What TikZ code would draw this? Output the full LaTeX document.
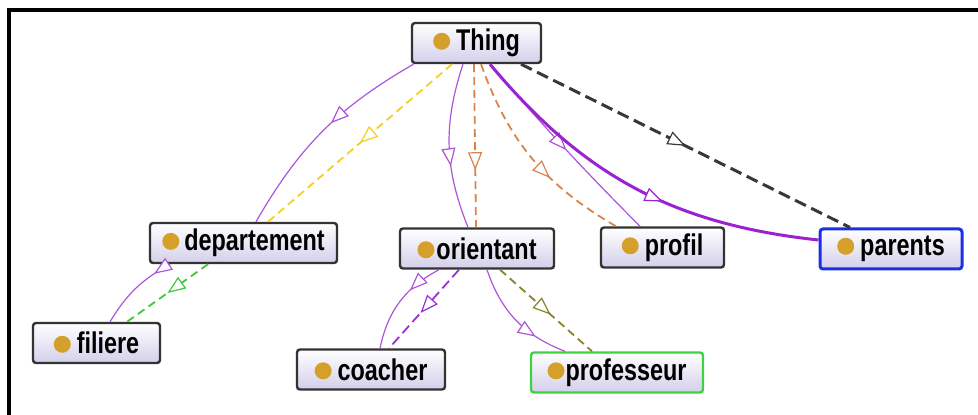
\documentclass[tikz,border=0pt]{standalone}
\usepackage{graphicx}
\usepackage{fontspec}
\setmainfont{Liberation Sans}
\usetikzlibrary{arrows.meta,decorations.markings}

\definecolor{isapurple}{HTML}{AC55D8}
\definecolor{thickpurple}{HTML}{9A22D0}
\definecolor{dashpurple}{HTML}{9B30D0}
\definecolor{dashyellow}{HTML}{F2D024}
\definecolor{dashorange}{HTML}{D9844A}
\definecolor{dashgreen}{HTML}{3CC83C}
\definecolor{dasholive}{HTML}{85852A}
\definecolor{dashblack}{HTML}{383838}
\definecolor{parentblue}{HTML}{1A2FE6}
\definecolor{profgreen}{HTML}{3FD13F}
\definecolor{dotgold}{HTML}{D4A02A}
\definecolor{boxlavender}{HTML}{D3CFEA}

\newcommand{\classdot}{\tikz[baseline=-9.4pt]\fill[dotgold] (0,0) circle (8.5pt);}
\newcommand{\clsname}[2][5pt]{\classdot\hspace{#1}\scalebox{1}[1.28]{#2}}

\tikzset{
	cls/.style={draw=black!80, line width=2.4pt, rounded corners=3pt, top color=white,
		bottom color=boxlavender, minimum height=40pt, inner sep=0pt,
		font=\bfseries\fontsize{23.4}{22}\selectfont},
	tipat/.style={decoration={markings, mark=at position #1 with
		{\arrow[line width=1.2pt]{Triangle[length=18pt,width=14pt,fill=white]}}},
		postaction={decorate}},
	isa/.style={isapurple, line width=1.2pt},
	isathick/.style={thickpurple, line width=3pt},
	yellowdash/.style={dashyellow, line width=1.8pt, dash pattern=on 8pt off 5pt},
	orangedash/.style={dashorange, line width=1.8pt, dash pattern=on 8pt off 5pt},
	blackdash/.style={dashblack, line width=3pt, dash pattern=on 12pt off 6pt},
	greendash/.style={dashgreen, line width=1.8pt, dash pattern=on 8pt off 5pt},
	olivedash/.style={dasholive, line width=1.8pt, dash pattern=on 8pt off 5pt},
	purpledash/.style={dashpurple, line width=1.8pt, dash pattern=on 10pt off 5pt}
}

\begin{document}
\begin{tikzpicture}[x=1pt,y=1pt]
	\useasboundingbox (0,0) rectangle (978,415);
	\draw[line width=4pt] (9,0) -- (9,405) -- (978,405);

	% classes
	\node[cls, minimum width=129pt] (thing) at (476.5,372) {\clsname[6pt]{Thing}};
	\node[cls, minimum width=187pt] (departement) at (243.5,172) {\clsname{departement}};
	\node[cls, minimum width=154pt] (orientant) at (477,166.5) {\clsname[2pt]{orientant}};
	\node[cls, minimum width=123pt] (profil) at (662.5,167.5) {\clsname[6pt]{profil}};
	\node[cls, draw=parentblue, line width=3pt, minimum width=142pt] (parents) at (891,166) {\clsname[6pt]{parents}};
	\node[cls, minimum width=127pt] (filiere) at (96.5,72) {\clsname[6pt]{filiere}};
	\node[cls, minimum width=148pt] (coacher) at (371,45.5) {\clsname[6pt]{coacher}};
	\node[cls, draw=profgreen, minimum width=172pt] (professeur) at (617,42.5) {\clsname[1pt]{professeur}};

	% from Thing
	\draw[isa, tipat=0.45] ([xshift=-63pt]thing.south) to[bend right=15] ([xshift=12.5pt]departement.north);
	\draw[yellowdash, tipat=0.5] ([xshift=-24.5pt]thing.south) -- ([xshift=24.5pt]departement.north);
	\draw[isa, tipat=0.62] ([xshift=-13.5pt]thing.south) to[bend right=20] ([xshift=-9pt]orientant.north);
	\draw[orangedash, tipat=0.65] ([xshift=-2.5pt]thing.south) -- ([xshift=-1pt]orientant.north);
	\draw[orangedash, tipat=0.62] ([xshift=4.5pt]thing.south) to[bend right=20] ([xshift=-46.5pt]profil.north);
	\draw[isa, tipat=0.52] ([xshift=13.5pt]thing.south) to[bend right=2] ([xshift=-22.5pt]profil.north);
	\draw[isathick, tipat=0.58] ([xshift=13.5pt]thing.south) to[bend right=22] ([yshift=9pt]parents.west);
	\draw[blackdash, tipat=0.5] ([xshift=44.5pt]thing.south) -- ([xshift=-41pt]parents.north);

	% lower levels
	\draw[isa, tipat=0.22] ([xshift=-73.5pt]departement.south) to[bend right=15] ([xshift=13.5pt]filiere.north);
	\draw[greendash, tipat=0.5] ([xshift=-35.5pt]departement.south) -- ([xshift=30.5pt]filiere.north);
	\draw[isa, tipat=0.35] ([xshift=-38pt]orientant.south) to[bend right=25] ([xshift=9pt]coacher.north);
	\draw[purpledash, tipat=0.55] ([xshift=-18pt]orientant.south) -- ([xshift=18pt]coacher.north);
	\draw[isa, tipat=0.72] ([xshift=10pt]orientant.south) to[bend right=25] ([xshift=-52pt]professeur.north);
	\draw[olivedash, tipat=0.55] ([xshift=23pt]orientant.south) -- ([xshift=-25pt]professeur.north);
\end{tikzpicture}
\end{document}
